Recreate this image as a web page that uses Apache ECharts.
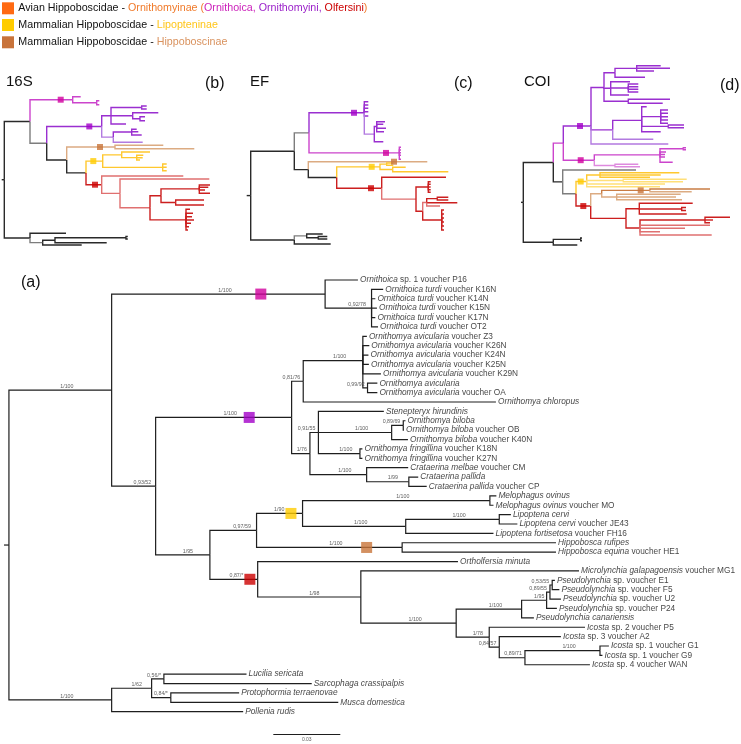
<!DOCTYPE html>
<html><head><meta charset="utf-8">
<script src="https://cdn.jsdelivr.net/npm/echarts@6/dist/echarts.min.js"></script>
<style>html,body{margin:0;padding:0;background:#fff}#c{width:741px;height:744px}</style>
</head><body><div id="c"></div>
<script>
const FONT = '"Liberation Sans", Arial, Helvetica, sans-serif';

// ================= Panel (a): main tree =================
// internal nodes: [id, parent, depth (0.001 subst./site), support]
const mainNodes = [
 ['R0', null, 0, ''],
 ['A','R0',46.0,'1/100'],
 ['B','A',141.6,'1/100'],
 ['C','B',162.4,'0,92/78'],
 ['E','A',65.7,'0,93/52'],
 ['J','E',126.6,'1/100'],
 ['K','J',131.8,'0,81/76'],
 ['L','K',158.5,'1/100'],
 ['M','L',160.6,'0,99/92'],
 ['N','J',134.8,'1/76'],
 ['O','N',138.6,'0,91/55'],
 ['S','O',171.4,'1/100'],
 ['T','S',176.6,'0,89/69'],
 ['U','O',157.2,'1/100'],
 ['Q','N',160.2,'1/100'],
 ['R','Q',179.1,'1/99'],
 ['I','E',90.0,'1/95'],
 ['H','I',110.9,'0,97/59'],
 ['V','H',131.5,'1/90'],
 ['X','V',215.4,'1/100'],
 ['Y','V',177.7,'1/100'],
 ['Z','Y',219.6,'1/100'],
 ['W','H',176.1,'1/100'],
 ['F','I',111.4,'0,87/*'],
 ['AA','F',157.6,'1/98'],
 ['AB','AA',200.3,'1/100'],
 ['AC','AB',229.6,'1/100'],
 ['AD','AC',240.8,'1/95'],
 ['AE','AD',242.3,'0,89/55'],
 ['AF','AE',243.3,'0,53/55'],
 ['AG','AB',215.1,'1/78'],
 ['AH','AG',219.6,'0,84/57'],
 ['AI','AH',231.1,'0,89/71'],
 ['AJ','AI',264.7,'1/100'],
 ['OG','R0',46.0,'1/100'],
 ['OH','OG',63.9,'1/62'],
 ['OI','OH',69.4,'0,56/*'],
 ['OJ','OH',72.5,'0,84/*']
];
// leaves, top to bottom
const leafItalic = ['Ornithoica','Ornithoica turdi','Ornithoica turdi','Ornithoica turdi','Ornithoica turdi','Ornithoica turdi',
 'Ornithomya avicularia','Ornithomya avicularia','Ornithomya avicularia','Ornithomya avicularia','Ornithomya avicularia','Ornithomya avicularia','Ornithomya avicularia',
 'Ornithomya chloropus','Stenepteryx hirundinis','Ornithomya biloba','Ornithomya biloba','Ornithomya biloba','Ornithomya fringillina','Ornithomya fringillina',
 'Crataerina melbae','Crataerina pallida','Crataerina pallida','Melophagus ovinus','Melophagus ovinus','Lipoptena cervi','Lipoptena cervi','Lipoptena fortisetosa',
 'Hippobosca rufipes','Hippobosca equina','Ortholfersia minuta','Microlynchia galapagoensis','Pseudolynchia','Pseudolynchia','Pseudolynchia','Pseudolynchia',
 'Pseudolynchia canariensis','Icosta','Icosta','Icosta','Icosta','Icosta','Lucilia sericata','Sarcophaga crassipalpis','Protophormia terraenovae','Musca domestica','Pollenia rudis'];
const leafRest = [' sp. 1 voucher P16',' voucher K16N',' voucher K14N',' voucher K15N',' voucher K17N',' voucher OT2',
 ' voucher Z3',' voucher K26N',' voucher K24N',' voucher K25N',' voucher K29N','',' voucher OA',
 '','','',' voucher OB',' voucher K40N',' voucher K18N',' voucher K27N',
 ' voucher CM','',' voucher CP','',' voucher MO','',' voucher JE43',' voucher FH16',
 '',' voucher HE1','',' voucher MG1',' sp. voucher E1',' sp. voucher F5',' sp. voucher U2',' sp. voucher P24',
 '',' sp. 2 voucher P5',' sp. 3 voucher A2',' sp. 1 voucher G1',' sp. 1 voucher G9',' sp. 4 voucher WAN','','','','',''];
const leafParent = ['B','C','C','C','C','C','L','L','L','L','L','M','M','K','O','T','T','S','U','U','Q','R','R','X','X','Z','Z','Y',
 'W','W','F','AA','AF','AF','AE','AD','AC','AG','AH','AJ','AJ','AI','OI','OI','OJ','OJ','OG'];
const leafDepth = [156.3,167.6,164.1,164.8,164.1,165.3,160.3,161.4,161.0,161.2,166.6,165.0,165.0,218.1,167.9,177.6,176.9,178.7,158.3,158.3,
 178.8,183.3,187.1,218.3,217.0,224.8,227.7,217.0,245.0,245.0,201.1,255.3,244.5,246.5,247.2,245.4,235.1,258.0,247.2,268.7,265.8,260.2,
 106.4,135.6,103.1,147.5,104.9];
const mainStem = -2.2;
const mainMarkNode = ['B','J','V','W','F'];
const mainMarkDepth = [112.8,107.6,126.3,160.2,107.9];
const mainMarkClade = ['ornithoica','ornithomyini','lipopteninae','hippoboscinae','olfersini'];
const scaleBarFrom = 118.4, scaleBarTo = 148.4, scaleBarRow = 49.4, scaleBarText = '0.03';

// ================= Small trees: [id, parent, depth, row, colour key] =================
const tree16S = [
['r',null,0,null,'k'],
['b1','r',25.7,null,'k'],
['b2','b1',68.4,null,'m'],
['-','b2',76.4,6.7,'m'],
['b2a','b2',92.4,null,'m'],
['-','b2a',95,10.7,'m'],['-','b2a',95,14.7,'m'],
['b3','b1',42.4,null,'g'],
['b4','b3',97.4,null,'p'],
['b5','b4',106.7,null,'p'],
['b6','b5',137.4,null,'p'],
['-','b6',142.4,16,'p'],['-','b6',142.4,19,'p'],
['b7','b5',128.4,null,'p'],
['-','b7',154,22.7,'p'],
['b7a','b7',135.7,null,'p'],
['-','b7a',140.7,26.7,'p'],['-','b7a',140.7,30.7,'p'],
['-','b5',121.7,34,'p'],
['b8','b4',109,null,'p2'],
['b8a','b8',127.4,null,'p'],
['-','b8a',132.4,39.3,'p'],['-','b8a',134,41.7,'p'],['-','b8a',137.4,45,'p'],
['-','b8',138.4,52.3,'p2'],
['b9','b3',62.4,null,'k'],
['b10','b9',110.7,null,'b2'],
['-','b10',159,55.3,'b2'],['-','b10',190,58.7,'b2'],
['b11','b9',81.7,null,'k'],
['b12','b11',98.4,null,'y'],
['b12a','b12',117.4,null,'y'],
['-','b12a',145.7,62,'y'],
['b12b','b12a',132.4,null,'y'],
['-','b12b',139,65.3,'y'],['-','b12b',138.4,67.7,'y'],['-','b12b',135.7,70,'y'],
['b12c','b12',158.4,null,'y'],
['-','b12c',162.4,74,'y'],['-','b12c',162.4,77.3,'y'],['-','b12c',162.4,80.7,'y'],
['b13','b11',97.4,null,'r'],
['-','b13',179,86,'r2'],
['b14','b13',115.7,null,'r2'],
['-','b14',205,89,'r2'],
['b15','b14',145.7,null,'r2'],
['b16','b15',156.7,null,'r'],
['b16a','b16',195,null,'r'],
['-','b16a',205.7,95,'r'],['-','b16a',204,97.3,'r'],['-','b16a',200.7,100,'r'],['-','b16a',205.7,103.3,'r'],
['b16b','b16',171.4,null,'r'],
['-','b16b',199.7,110,'r'],['-','b16b',199.7,115,'r'],
['b17','b15',181.7,null,'r'],
['-','b17',185.7,119.3,'r'],['-','b17',188.7,123.3,'r'],['-','b17',187.7,126.7,'r'],['-','b17',189.7,130,'r'],
['-','b17',186.7,133.3,'r'],['-','b17',184.7,136.7,'r'],['-','b17',183.7,140,'r'],
['bo','r',25.7,null,'k'],
['-','bo',61.7,143.3,'k'],
['bo1','bo',38.4,null,'g'],
['bo2','bo1',50.7,null,'k'],
['bo2a','bo2',121.7,null,'k'],
['-','bo2a',123.5,146.5,'k'],['-','bo2a',123.5,149,'k'],
['-','bo2',102.4,152.7,'k'],
['-','bo1',77.4,155,'k']
];
const stem16S = -2.6;
const marks16S = [['b2',56.4,'ornithoica'],['b4',85,'ornithomyini'],['b10',95.7,'hippoboscinae'],['b12',89,'lipopteninae'],['b13',90.7,'olfersini']];

const treeEF = [
['r',null,0,null,'k'],
['c1','r',43.6,null,'k'],
['c2','c1',58.3,null,'g'],
['c3','c2',113.6,null,'p'],
['-','c3',117.6,11.7,'p'],['-','c3',117.6,15,'p'],['-','c3',117.6,18.3,'p'],['-','c3',117.6,21.7,'p'],['-','c3',117.6,26,'p'],
['c4','c3',123.6,null,'p2'],
['c5','c4',126,null,'p'],
['-','c5',134.3,31.7,'p'],['-','c5',132.6,34.3,'p'],['-','c5',135.3,38.3,'p'],['-','c5',133.3,41.7,'p'],
['-','c4',132.6,51.7,'p'],
['c6','c2',148.6,null,'m'],
['-','c6',150.3,57.3,'m'],['-','c6',150.3,60,'m'],['-','c6',150.3,62.7,'m'],['-','c6',150.3,65.3,'m'],['-','c6',150.3,69.3,'m'],
['c7','c1',57.6,null,'k'],
['hip','c7',176.6,71.7,'b2'],
['c8','c7',86,null,'k'],
['c9','c8',129.3,null,'y'],
['c9a','c9',136,null,'y'],
['-','c9a',142.6,73,'y'],['-','c9a',142.6,75.3,'y'],
['c9b','c9',142,null,'y'],
['-','c9b',155,77.3,'y'],['-','c9b',197.6,81.7,'y'],
['c10','c8',131,null,'r'],
['-','c10',195.3,87.3,'r'],
['c11','c10',165.3,null,'r2'],
['c11a','c11',177.6,null,'r'],
['-','c11a',180,91.7,'r'],['-','c11a',180,94.3,'r'],['-','c11a',180,97,'r'],['-','c11a',180,99.7,'r'],['-','c11a',180,102.3,'r'],
['c12','c11',172,null,'r'],
['c12a','c12',176,null,'r2'],
['c12b','c12a',186.6,null,'r'],
['-','c12b',197.6,107.3,'r'],['-','c12b',197.6,110,'r'],
['-','c12a',206.6,112.7,'r'],
['-','c12a',189.3,116,'r2'],
['c12c','c12',191,null,'r'],
['-','c12c',193.3,120,'r'],['-','c12c',193.3,124,'r'],['-','c12c',193.3,128,'r'],['-','c12c',193.3,132,'r'],['-','c12c',193.3,136,'r'],['-','c12c',193.3,140,'r'],
['co','r',43.6,null,'k'],
['co1','co',56,null,'g'],
['-','co1',72,144,'k'],
['co1a','co1',67.6,null,'k'],
['-','co1a',76.6,146.5,'k'],['-','co1a',76.6,149,'k'],
['-','co',80,154,'k']
];
const stemEF = -4;
const marksEF = [['c3',103.3,'ornithomyini'],['c6',135.3,'ornithoica'],['hip',143.3,'hippoboscinae'],['c9',121,'lipopteninae'],['c10',120.3,'olfersini']];

const treeCOI = [
['r',null,0,null,'k'],
['d1','r',30,null,'k'],
['d2','d1',40,null,'m'],
['d3','d2',67.7,66,'p'],
['d4','d3',80.7,null,'p'],
['d5','d4',91.7,null,'p'],
['d5a','d5',113.4,null,'p'],
['-','d5a',137.4,5.7,'p'],['-','d5a',146.7,8.3,'p'],['-','d5a',130.7,11,'p'],
['-','d5',121.7,17.3,'p'],
['d5b','d4',87.4,null,'p'],
['-','d5b',106.7,21.7,'p'],
['d5c','d5b',105,null,'p'],
['-','d5c',115,24,'p'],['-','d5c',115,26.7,'p'],['-','d5c',115,29.3,'p'],['-','d5c',115,32,'p'],
['-','d5b',105.7,35,'p'],
['d5d','d4',105,null,'p'],
['-','d5d',146.7,39.3,'p'],['-','d5d',139.4,43.3,'p'],
['d6','d3',89.4,null,'p'],
['d7','d6',118.4,null,'p'],
['-','d7',123.4,46.7,'p'],
['d7a','d7',137.4,null,'p'],
['-','d7a',144.7,50,'p'],['-','d7a',144.7,53.3,'p'],['-','d7a',144.7,56.7,'p'],['-','d7a',144.7,60,'p'],['-','d7a',144.7,63.3,'p'],
['d7b','d7',145,null,'p'],
['-','d7b',160.7,65,'p'],['-','d7b',160.7,67.7,'p'],
['-','d7',137.4,71.7,'p'],
['-','d6',130,79.3,'p2'],
['-','d3',145,84,'p2'],
['d8','d2',71,null,'m'],
['d8a','d8',136.7,null,'m'],
['d8b','d8a',160,null,'m'],
['-','d8b',162.7,87.7,'m'],['-','d8b',162.7,89.7,'m'],
['-','d8a',142.7,92,'m'],['-','d8a',141.7,94.5,'m'],['-','d8a',141.7,97,'m'],['-','d8a',149.4,102.3,'m'],
['d8c','d8',91.7,null,'m2'],
['-','d8c',115,104.3,'m2'],['-','d8c',116.7,106.7,'m2'],
['d9','d1',39.4,null,'k'],
['-','d9',112.7,110,'g'],
['d10','d9',52.7,null,'g'],
['d11','d10',63.4,null,'y'],
['d11a','d11',76.7,null,'y'],
['-','d11a',156,112.7,'y'],['-','d11a',137.4,115,'y'],['-','d11a',126.7,117.3,'y'],
['d11b','d11',100,null,'y2'],
['-','d11b',163.4,119.3,'y2'],['-','d11b',159.7,121.7,'y2'],
['-','d11',141.7,124,'y2'],['-','d11',136.7,126.7,'y2'],
['d12','d10',67.4,null,'r'],
['d13','d12',78.4,null,'b2'],
['d13a','d13',126.7,null,'b'],
['-','d13a',186.7,129,'b'],['-','d13a',168.4,131.7,'b2'],
['d13b','d13',93.4,null,'b2'],
['-','d13b',157.4,134.3,'b2'],['-','d13b',152.7,137,'b2'],['-','d13b',158.7,139.7,'b2'],
['d14','d12',102.7,null,'r'],
['d14a','d14',116,null,'r'],
['-','d14a',169.4,143.3,'r'],
['d14b','d14a',158.4,null,'r'],
['-','d14b',162.7,147.5,'r'],['-','d14b',162.7,150.5,'r'],
['-','d14a',163.4,154,'r'],
['d14c','d14',116.7,null,'r'],
['d14d','d14c',181.7,null,'r'],
['-','d14d',206.7,157.3,'r'],['-','d14d',189.7,160,'r'],['-','d14d',186.7,162.7,'r'],
['-','d14c',186.7,165.3,'r2'],['-','d14c',161.7,168.3,'r2'],['-','d14c',136.7,171.7,'r2'],['-','d14c',188.4,175,'r2'],
['do','r',30,null,'k'],
['do1','do',57.4,null,'k'],
['-','do1',58.7,178,'k'],['-','do1',58.7,180.7,'k'],
['-','do',54,185,'k']
];
const stemCOI = -2.3;
const marksCOI = [['d3',56.7,'ornithomyini'],['d8',57.4,'ornithoica'],['d11',57.4,'lipopteninae'],['d13a',117.4,'hippoboscinae'],['d12',60,'olfersini']];

// ================= colours =================
const lineColor = {k:'#2a2a2a', g:'#7d7d7d', m:'#cc44cc', m2:'#de8ade', p:'#9a2fd0', p2:'#b27ae0',
  y:'#ffc82e', y2:'#ffdf78', b:'#c97d45', b2:'#dcab82', r:'#cc1f1f', r2:'#e07070'};
const cladeColor = {ornithoica:'#d1009e', ornithomyini:'#a300c8', lipopteninae:'#ffcc00', hippoboscinae:'#c8743a', olfersini:'#cc0000'};

// ================= helpers =================
function buildTree(entries){
  const byId = {};
  entries.forEach(e => { e.children = []; if (e.id && e.id !== '-') byId[e.id] = e; });
  entries.forEach(e => { if (e.parent != null) { e.p = byId[e.parent]; e.p.children.push(e); } });
  const gy = e => {
    if (e.y !== undefined) return e.y;
    e.y = (e.row != null) ? e.row : e.children.reduce((s, c) => s + gy(c), 0) / e.children.length;
    return e.y;
  };
  entries.forEach(gy);
  return byId;
}
function smallEntries(arr){ return arr.map(t => ({id:t[0], parent:t[1], depth:t[2], row:t[3], color:t[4]})); }
function elbowData(entries, colorOf, stem){
  const root = entries.find(e => e.parent == null);
  const d = entries.filter(e => e.p).map(e => ({
    coords: [[e.p.depth, e.p.y], [e.p.depth, e.y], [e.depth, e.y]],
    lineStyle: {color: colorOf(e)}
  }));
  d.push({coords: [[stem, root.y], [root.depth, root.y]], lineStyle: {color: colorOf(root)}});
  return d;
}

// main tree entries
const mainEntries = mainNodes.map(n => ({id:n[0], parent:n[1], depth:n[2], row:null, support:n[3]}))
  .concat(leafParent.map((p, i) => ({id:'-', parent:p, depth:leafDepth[i], row:i + 1, li:i})));
const mainById = buildTree(mainEntries);

const PX_PER_UNIT = 2.233;           // px per 0.001 subst./site in panel (a)
const MARK_HALF = 6.5 / PX_PER_UNIT;  // half marker + gap, in axis units
const markAt = {};
mainMarkNode.forEach((id, i) => { markAt[id] = mainMarkDepth[i]; });
const supportData = mainEntries.filter(e => e.support && e.p).map(e => {
  const mid = (e.p.depth + e.depth) / 2;
  const w = e.support.length * 2.5 / PX_PER_UNIT;
  const limit = (markAt[e.id] !== undefined) ? markAt[e.id] - MARK_HALF : e.depth - 1;
  if (mid + w <= limit) return {value:[mid, e.y], name:e.support, label:{align:'left'}};
  const right = (markAt[e.id] !== undefined) ? markAt[e.id] - MARK_HALF : e.depth - 1.3;
  return {value:[right, e.y], name:e.support, label:{align:'right'}};
});

const leafData = mainEntries.filter(e => e.li !== undefined).map(e => ({
  value:[e.depth, e.y], name: leafItalic[e.li] + '|' + leafRest[e.li]
}));

const mainMarks = mainMarkNode.map((id, i) => ({value:[mainMarkDepth[i], mainById[id].y], itemStyle:{color:cladeColor[mainMarkClade[i]]}}));

const small = [tree16S, treeEF, treeCOI].map(smallEntries);
const smallById = small.map(buildTree);
const smallStems = [stem16S, stemEF, stemCOI];
const smallMarks = [marks16S, marksEF, marksCOI];

const series = [];
series.push({type:'lines', coordinateSystem:'cartesian2d', xAxisIndex:0, yAxisIndex:0, polyline:true, silent:true, clip:false,
  lineStyle:{width:1.2, opacity:1}, data: elbowData(mainEntries, () => '#1e1e1e', mainStem), z:2});
series.push({type:'lines', coordinateSystem:'cartesian2d', xAxisIndex:0, yAxisIndex:0, silent:true, clip:false,
  lineStyle:{width:1.2, color:'#1e1e1e', opacity:1}, data:[{coords:[[scaleBarFrom, scaleBarRow],[scaleBarTo, scaleBarRow]]}], z:2});
series.push({type:'scatter', xAxisIndex:0, yAxisIndex:0, symbolSize:0.1, silent:true, clip:false,
  itemStyle:{color:'rgba(0,0,0,0)'},
  data:[{value:[(scaleBarFrom + scaleBarTo) / 2, scaleBarRow], name:scaleBarText}],
  label:{show:true, position:[0, 3], align:'center', verticalAlign:'top', formatter:p => p.name, fontSize:5, fontFamily:FONT, color:'#333'}});
series.push({type:'scatter', xAxisIndex:0, yAxisIndex:0, symbolSize:0.1, silent:true, clip:false,
  itemStyle:{color:'rgba(0,0,0,0)'}, data: supportData,
  label:{show:true, position:[0, -1.2], verticalAlign:'bottom', formatter:p => p.name, fontSize:5.3, fontFamily:FONT, color:'#333'}, z:3});
series.push({type:'scatter', xAxisIndex:0, yAxisIndex:0, symbolSize:0.1, silent:true, clip:false,
  itemStyle:{color:'rgba(0,0,0,0)'}, data: leafData,
  label:{show:true, position:'right', distance:2,
    formatter: p => { const [a, b] = p.name.split('|'); return '{i|' + a + '}' + (b ? '{n|' + b + '}' : ''); },
    rich:{ i:{fontStyle:'italic', fontSize:8.3, fontFamily:FONT, color:'#111'}, n:{fontSize:8.3, fontFamily:FONT, color:'#111'} }
  }, z:3});
series.push({type:'scatter', xAxisIndex:0, yAxisIndex:0, symbol:'rect', symbolSize:11, silent:true, clip:false, data: mainMarks, z:5});

small.forEach((entries, k) => {
  const ax = k + 1;
  series.push({type:'lines', coordinateSystem:'cartesian2d', xAxisIndex:ax, yAxisIndex:ax, polyline:true, silent:true, clip:false,
    lineStyle:{width:1.4, opacity:1}, data: elbowData(entries, e => lineColor[e.color], smallStems[k]), z:2});
  series.push({type:'scatter', xAxisIndex:ax, yAxisIndex:ax, symbol:'rect', symbolSize:6, silent:true, clip:false,
    data: smallMarks[k].map(m => ({value:[m[1], smallById[k][m[0]].y], itemStyle:{color:cladeColor[m[2]]}})), z:5});
});

const option = {
  animation:false,
  backgroundColor:'#ffffff',
  grid:[
    {left:0, top:270.6, width:678.8, height:469.25},
    {left:0, top:90, width:250, height:160},
    {left:240, top:90, width:250, height:160},
    {left:490, top:60, width:251, height:190}
  ],
  xAxis:[
    {type:'value', gridIndex:0, min:-4, max:300, show:false},
    {type:'value', gridIndex:1, min:-4.3, max:245.7, show:false},
    {type:'value', gridIndex:2, min:-10.7, max:239.3, show:false},
    {type:'value', gridIndex:3, min:-33.3, max:217.7, show:false}
  ],
  yAxis:[
    {type:'value', gridIndex:0, min:0, max:50, inverse:true, show:false},
    {type:'value', gridIndex:1, min:0, max:160, inverse:true, show:false},
    {type:'value', gridIndex:2, min:0, max:160, inverse:true, show:false},
    {type:'value', gridIndex:3, min:0, max:190, inverse:true, show:false}
  ],
  graphic:[
    {type:'rect', left:2, top:2.3, shape:{width:12, height:12}, style:{fill:'#ff6a13'}},
    {type:'rect', left:2, top:19, shape:{width:12, height:12}, style:{fill:'#ffcc00'}},
    {type:'rect', left:2, top:36.3, shape:{width:12, height:12}, style:{fill:'#c8733a'}},
    {type:'text', left:18.3, top:2.5, style:{text:'Avian Hippoboscidae - {o|Ornithomyinae (}{m|Ornithoica}{m|, }{p|Ornithomyini}{p|, }{r|Olfersini}{o|)}',
      fontSize:10.7, fontFamily:FONT, fill:'#111',
      rich:{o:{fill:'#f07a2a', color:'#f07a2a', fontSize:10.7, fontFamily:FONT}, m:{fill:'#cc22bb', color:'#cc22bb', fontSize:10.7, fontFamily:FONT},
            p:{fill:'#9a1fc9', color:'#9a1fc9', fontSize:10.7, fontFamily:FONT}, r:{fill:'#cc0000', color:'#cc0000', fontSize:10.7, fontFamily:FONT}}}},
    {type:'text', left:18.3, top:19.2, style:{text:'Mammalian Hippoboscidae - {y|Lipopteninae}', fontSize:10.7, fontFamily:FONT, fill:'#111',
      rich:{y:{fill:'#ffc61a', color:'#ffc61a', fontSize:10.7, fontFamily:FONT}}}},
    {type:'text', left:18.3, top:36.5, style:{text:'Mammalian Hippoboscidae - {h|Hippoboscinae}', fontSize:10.7, fontFamily:FONT, fill:'#111',
      rich:{h:{fill:'#d9925e', color:'#d9925e', fontSize:10.7, fontFamily:FONT}}}},
    {type:'text', left:6, top:74, style:{text:'16S', fontSize:15, fontFamily:FONT, fill:'#111'}},
    {type:'text', left:205, top:76, style:{text:'(b)', fontSize:16, fontFamily:FONT, fill:'#111'}},
    {type:'text', left:250, top:74, style:{text:'EF', fontSize:15, fontFamily:FONT, fill:'#111'}},
    {type:'text', left:454, top:76, style:{text:'(c)', fontSize:16, fontFamily:FONT, fill:'#111'}},
    {type:'text', left:524, top:74, style:{text:'COI', fontSize:15, fontFamily:FONT, fill:'#111'}},
    {type:'text', left:720, top:78, style:{text:'(d)', fontSize:16, fontFamily:FONT, fill:'#111'}},
    {type:'text', left:21, top:275, style:{text:'(a)', fontSize:16, fontFamily:FONT, fill:'#111'}}
  ],
  series: series
};
const chart = echarts.init(document.getElementById('c'), null, {renderer:'canvas'});
chart.setOption(option);
</script></body></html>
